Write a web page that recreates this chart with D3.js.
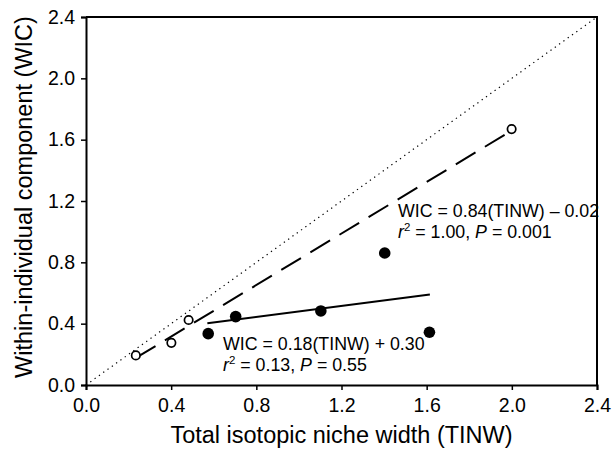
<!DOCTYPE html>
<html>
<head>
<meta charset="utf-8">
<script src="https://cdn.jsdelivr.net/npm/d3@7"></script>
<style>
  body { margin: 0; background: #fff; }
  svg text { font-family: "Liberation Sans", Arial, sans-serif; fill: #000; }
</style>
</head>
<body>
<svg id="chart" width="614" height="451"></svg>
<script>
// open circles (dashed fit)
var open_x = [0.234, 0.401, 0.482, 1.999];
var open_y = [0.193, 0.275, 0.424, 1.669];
// filled circles (solid fit)
var fill_x = [0.574, 0.703, 1.103, 1.403, 1.613];
var fill_y = [0.335, 0.446, 0.483, 0.861, 0.344];
// regression coefficients [slope, intercept]
var open_fit = [0.84, -0.02];
var fill_fit = [0.18, 0.30];
var fill_fit_range = [0.57, 1.615];
var tick_values = [0.0, 0.4, 0.8, 1.2, 1.6, 2.0, 2.4];

var margin = {left: 86, right: 17, top: 17, bottom: 66};
var svg = d3.select('#chart');
var width = 614 - margin.left - margin.right;
var height = 451 - margin.top - margin.bottom;

var x_scale = d3.scaleLinear().domain([0, 2.4]).range([0, width]);
var y_scale = d3.scaleLinear().domain([0, 2.4]).range([height, 0]);

var g = svg.append('g')
  .attr('transform', 'translate(' + margin.left + ',' + margin.top + ')');

// 1:1 dotted line
g.append('line')
  .attr('x1', x_scale(0)).attr('y1', y_scale(0))
  .attr('x2', x_scale(2.4)).attr('y2', y_scale(2.4))
  .attr('stroke', '#000')
  .attr('stroke-width', 1.2)
  .attr('stroke-dasharray', '1.3,4');

function fit_line(fit, x0, x1) {
  return [[x0, fit[0] * x0 + fit[1]], [x1, fit[0] * x1 + fit[1]]];
}
var line = d3.line()
  .x(function(d){ return x_scale(d[0]); })
  .y(function(d){ return y_scale(d[1]); });

g.append('path')
  .attr('d', line(fit_line(open_fit, d3.min(open_x), d3.max(open_x))))
  .attr('fill', 'none')
  .attr('stroke', '#000')
  .attr('stroke-width', 2)
  .attr('stroke-dasharray', '23,11');

g.append('path')
  .attr('d', line(fit_line(fill_fit, fill_fit_range[0], fill_fit_range[1])))
  .attr('fill', 'none')
  .attr('stroke', '#000')
  .attr('stroke-width', 2);

// points
g.selectAll('.open_pt')
  .data(open_x)
  .enter()
  .append('circle')
  .attr('class', 'open_pt')
  .attr('cx', function(d){ return x_scale(d); })
  .attr('cy', function(d, i){ return y_scale(open_y[i]); })
  .attr('r', 4.2)
  .attr('fill', '#fff')
  .attr('stroke', '#000')
  .attr('stroke-width', 1.7);

g.selectAll('.fill_pt')
  .data(fill_x)
  .enter()
  .append('circle')
  .attr('class', 'fill_pt')
  .attr('cx', function(d){ return x_scale(d); })
  .attr('cy', function(d, i){ return y_scale(fill_y[i]); })
  .attr('r', 5.8)
  .attr('fill', '#000');

// frame (top and right edges)
g.append('path')
  .attr('d', 'M0,0H' + width + 'V' + height)
  .attr('fill', 'none')
  .attr('stroke', '#000')
  .attr('stroke-width', 2);

// axes
var x_axis = g.append('g')
  .attr('transform', 'translate(0,' + height + ')')
  .call(d3.axisBottom(x_scale).tickValues(tick_values)
    .tickFormat(d3.format('.1f')).tickSizeOuter(0).tickSize(5).tickPadding(8));
var y_axis = g.append('g')
  .call(d3.axisLeft(y_scale).tickValues(tick_values)
    .tickFormat(d3.format('.1f')).tickSizeOuter(0).tickSize(5).tickPadding(6));

[x_axis, y_axis].forEach(function(ax){
  ax.select('.domain').attr('stroke-width', 2);
  ax.selectAll('.tick line').attr('stroke-width', 1.5);
  ax.selectAll('.tick text')
    .style('font-size', '19.5px')
    .style('font-family', '"Liberation Sans", Arial, sans-serif');
});

// axis titles
svg.append('text')
  .attr('x', margin.left + width / 2)
  .attr('y', 443)
  .attr('text-anchor', 'middle')
  .style('font-size', '23.5px')
  .text('Total isotopic niche width (TINW)');

svg.append('text')
  .attr('transform', 'translate(32,' + (margin.top + height / 2 - 4) + ') rotate(-90)')
  .attr('text-anchor', 'middle')
  .style('font-size', '23.5px')
  .text('Within-individual component (WIC)');

// regression annotations
function annotate(x, y, eq, r2, p) {
  svg.append('text')
    .attr('x', x).attr('y', y)
    .style('font-size', '17.8px')
    .text(eq);
  var t2 = svg.append('text')
    .attr('x', x).attr('y', y + 20.5)
    .style('font-size', '17.8px');
  t2.append('tspan').style('font-style', 'italic').text('r');
  t2.append('tspan').attr('dy', -7).style('font-size', '11.5px').text('2');
  t2.append('tspan').attr('dy', 7).text(' = ' + r2 + ', ');
  t2.append('tspan').style('font-style', 'italic').text('P');
  t2.append('tspan').text(' = ' + p);
}
annotate(398, 217, 'WIC = 0.84(TINW) \u2013 0.02', '1.00', '0.001');
annotate(223, 350, 'WIC = 0.18(TINW) + 0.30', '0.13', '0.55');
</script>
</body>
</html>
